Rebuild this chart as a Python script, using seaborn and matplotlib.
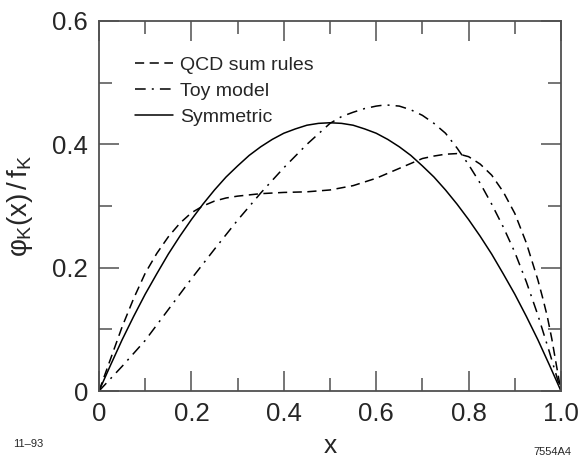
import numpy as np
import pandas as pd
import matplotlib
matplotlib.use("Agg")
import matplotlib.pyplot as plt
import seaborn as sns

# ---- data ----
sym_x = [0, 0.025, 0.05, 0.075, 0.1, 0.125, 0.15, 0.175, 0.2, 0.225, 0.25, 0.275,
         0.3, 0.325, 0.35, 0.375, 0.4, 0.425, 0.45, 0.475, 0.5,
         0.525, 0.55, 0.575, 0.6, 0.625, 0.65, 0.675, 0.7, 0.725, 0.75,
         0.775, 0.8, 0.825, 0.85, 0.875, 0.9, 0.925, 0.95, 0.975, 1.0]
sym_y = [0, 0.042, 0.083, 0.121, 0.157, 0.190, 0.222, 0.251, 0.278, 0.303, 0.326, 0.347,
         0.365, 0.382, 0.396, 0.408, 0.418, 0.425, 0.431, 0.434, 0.435,
         0.434, 0.431, 0.425, 0.418, 0.408, 0.396, 0.382, 0.365, 0.347, 0.326,
         0.303, 0.278, 0.251, 0.222, 0.190, 0.157, 0.121, 0.083, 0.042, 0]

toy_x = [0, 0.05, 0.1, 0.15, 0.2, 0.25, 0.3, 0.35, 0.4, 0.45, 0.5, 0.525,
         0.55, 0.575, 0.6, 0.62, 0.65, 0.675, 0.7, 0.725, 0.75, 0.775, 0.8,
         0.825, 0.85, 0.875, 0.9, 0.925, 0.95, 0.975, 1.0]
toy_y = [0, 0.040, 0.082, 0.132, 0.182, 0.230, 0.277, 0.321, 0.362, 0.400, 0.434, 0.445,
         0.452, 0.458, 0.462, 0.464, 0.462, 0.456, 0.447, 0.434, 0.418, 0.394, 0.367,
         0.337, 0.303, 0.266, 0.225, 0.177, 0.123, 0.063, 0]

qcd_x = [0, 0.025, 0.05, 0.075, 0.1, 0.125, 0.15, 0.175, 0.2, 0.225, 0.25, 0.275,
         0.3, 0.35, 0.4, 0.45, 0.5, 0.55, 0.6, 0.65, 0.7, 0.725, 0.75, 0.775,
         0.8, 0.825, 0.85, 0.875, 0.9, 0.925, 0.95, 0.96, 0.97, 0.98, 0.99, 1.0]
qcd_y = [0, 0.052, 0.104, 0.150, 0.191, 0.223, 0.250, 0.272, 0.289, 0.300, 0.308, 0.313,
         0.316, 0.320, 0.322, 0.323, 0.326, 0.333, 0.345, 0.361, 0.377, 0.381, 0.384, 0.385,
         0.380, 0.368, 0.350, 0.323, 0.288, 0.240, 0.180, 0.152, 0.122, 0.085, 0.042, 0]

labels = ["QCD sum rules", "Toy model", "Symmetric"]
x_ticks = [0, 0.2, 0.4, 0.6, 0.8, 1.0]
x_ticklabels = ["0", "0.2", "0.4", "0.6", "0.8", "1.0"]
y_ticks = [0, 0.2, 0.4, 0.6]
y_ticklabels = ["0", "0.2", "0.4", "0.6"]

df = pd.concat([
    pd.DataFrame({"x": qcd_x, "y": qcd_y, "model": labels[0]}),
    pd.DataFrame({"x": toy_x, "y": toy_y, "model": labels[1]}),
    pd.DataFrame({"x": sym_x, "y": sym_y, "model": labels[2]}),
], ignore_index=True)

sns.set_style("ticks")
plt.rcParams["font.family"] = ["Liberation Sans", "DejaVu Sans"]
plt.rcParams["mathtext.fontset"] = "custom"
plt.rcParams["mathtext.rm"] = "Liberation Sans"
plt.rcParams["mathtext.it"] = "Liberation Sans"
plt.rcParams["mathtext.bf"] = "Liberation Sans:bold"
plt.rcParams["mathtext.fallback"] = "stixsans"

fig = plt.figure(figsize=(5.79, 4.61), dpi=100)
ax = fig.add_axes([99 / 579, 70 / 461, 462 / 579, 370 / 461])

dashes = {labels[0]: (6, 3.6), labels[1]: (7, 4, 1.3, 4), labels[2]: ""}
sns.lineplot(data=df, x="x", y="y", style="model", style_order=labels,
             dashes=dashes, color="black", linewidth=1.1, sort=False,
             estimator=None, legend=False, ax=ax)

ax.set_xlim(0, 1)
ax.set_ylim(0, 0.6)
ax.set_xticks(x_ticks)
ax.set_xticklabels(x_ticklabels)
ax.set_yticks(y_ticks)
ax.set_yticklabels(y_ticklabels)
ax.set_xticks(np.arange(0.1, 1.0, 0.2), minor=True)
ax.set_yticks([0.1, 0.3, 0.5], minor=True)

spine_col = "#505050"
for s in ax.spines.values():
    s.set_color(spine_col)
    s.set_linewidth(1.3)
ax.tick_params(which="major", direction="in", length=14.5, width=1.1,
               color=spine_col, top=True, right=True, labelsize=18.5, pad=8)
ax.tick_params(which="minor", direction="in", length=9.5, width=1.1,
               color=spine_col, top=True, right=True)

ax.set_xlabel("x", fontsize=19, labelpad=6)
ax.set_ylabel(r"$φ_K(x)\,/\,f_K$", fontsize=20, labelpad=12)

leg = ax.legend(ax.lines[:3], labels, loc="upper left",
                bbox_to_anchor=(0.077, 0.904), frameon=False, fontsize=14,
                handlelength=2.0, handletextpad=0.32, labelspacing=0.42,
                borderaxespad=0, borderpad=0)

fig.text(13 / 579, 1 - 444 / 461, "11–93", fontsize=8, va="center", ha="left")
fig.text(571 / 579, 1 - 452 / 461, "7554A4", fontsize=8, va="center", ha="right")

fig.savefig("out.png", dpi=100)
